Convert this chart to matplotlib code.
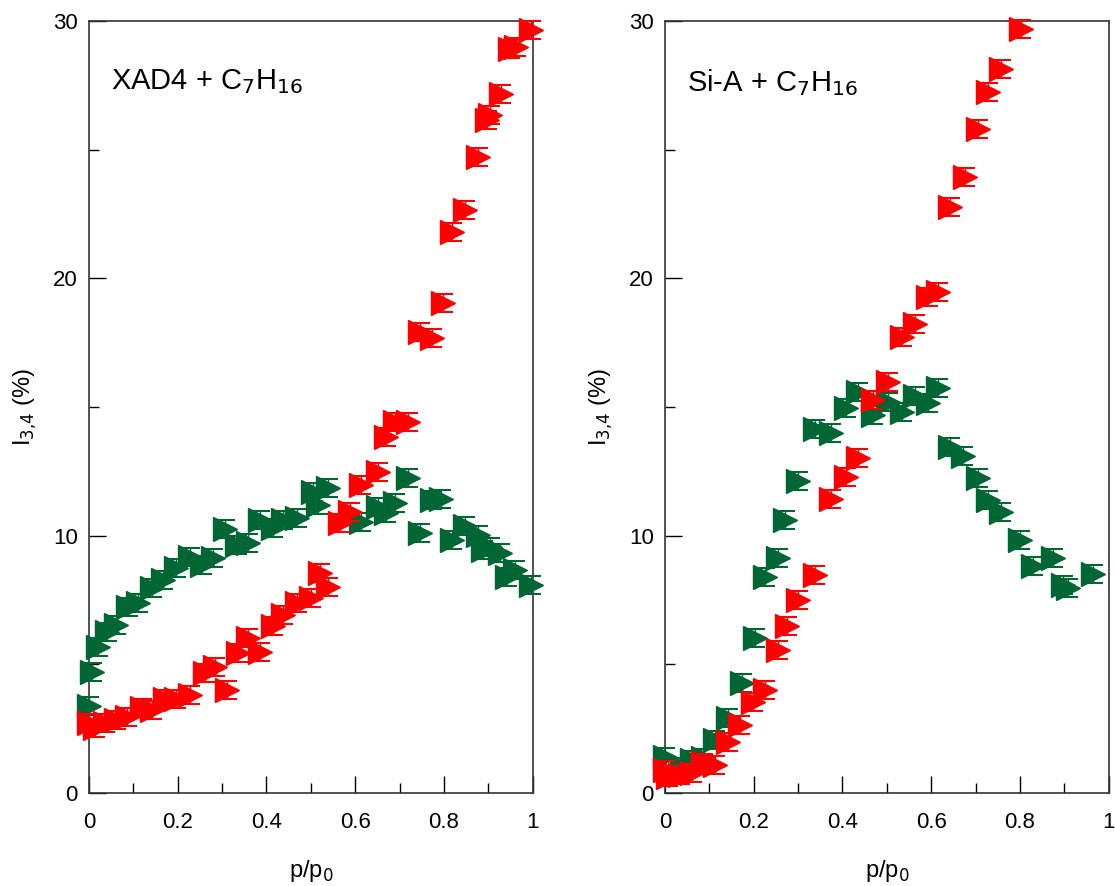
import numpy as np
import matplotlib
matplotlib.use("Agg")
import matplotlib.pyplot as plt
from matplotlib.ticker import MultipleLocator

plt.rcParams['font.family'] = ['Liberation Sans', 'DejaVu Sans']

# XAD4 + C7H16
xad_red_x = [0.0, 0.013, 0.036, 0.062, 0.085, 0.119, 0.141, 0.171, 0.197, 0.227, 0.261, 0.284, 0.31,
             0.336, 0.359, 0.385, 0.415, 0.438, 0.468, 0.50, 0.52, 0.539, 0.565, 0.588, 0.614, 0.652,
             0.67, 0.689, 0.719, 0.745, 0.772, 0.798, 0.817, 0.847, 0.877, 0.896, 0.903, 0.929, 0.948,
             0.963, 0.997]
xad_red_y = [2.73, 2.51, 2.73, 2.84, 2.97, 3.29, 3.23, 3.64, 3.64, 3.81, 4.68, 4.91, 4.0,
             5.45, 6.01, 5.49, 6.49, 6.92, 7.37, 7.57, 8.54, 8.02, 10.48, 10.93, 11.97, 12.49,
             13.85, 14.43, 14.43, 17.93, 17.67, 19.05, 21.82, 22.66, 24.73, 26.16, 26.35, 27.19, 28.94,
             29.0, 29.65]

xad_green_x = [0.0, 0.006, 0.021, 0.04, 0.062, 0.089, 0.111, 0.141, 0.167, 0.197, 0.227, 0.254, 0.28,
               0.306, 0.333, 0.359, 0.385, 0.415, 0.438, 0.468, 0.505, 0.516, 0.539, 0.614, 0.652,
               0.67, 0.689, 0.719, 0.745, 0.772, 0.794, 0.817, 0.847, 0.877, 0.888, 0.903, 0.926,
               0.943, 0.96, 0.997]
xad_green_y = [3.38, 4.71, 5.69, 6.27, 6.53, 7.24, 7.37, 7.96, 8.28, 8.73, 9.18, 8.86, 9.12,
               10.25, 9.64, 9.70, 10.61, 10.29, 10.61, 10.68, 11.71, 11.19, 11.84, 10.54, 11.13,
               10.87, 11.26, 12.23, 10.12, 11.39, 11.41, 9.83, 10.38, 10.03, 9.44, 9.57, 9.32,
               8.4, 8.65, 8.08]

# Si-A + C7H16
sia_red_x = [0.0, 0.007, 0.034, 0.06, 0.086, 0.113, 0.143, 0.169, 0.199, 0.225, 0.255, 0.274, 0.30,
             0.338, 0.375, 0.409, 0.435, 0.469, 0.503, 0.533, 0.563, 0.593, 0.616, 0.642, 0.676,
             0.706, 0.728, 0.758, 0.803]
sia_red_y = [0.9, 0.63, 0.70, 0.77, 1.15, 1.09, 1.99, 2.64, 3.55, 4.0, 5.56, 6.49, 7.50,
             8.47, 11.41, 12.29, 13.01, 15.27, 15.99, 17.74, 18.23, 19.29, 19.48, 22.79, 23.95,
             25.83, 27.26, 28.13, 29.68]

sia_green_x = [0.0, 0.038, 0.06, 0.086, 0.113, 0.143, 0.173, 0.203, 0.225, 0.255, 0.27, 0.30, 0.338,
               0.375, 0.409, 0.435, 0.469, 0.503, 0.533, 0.563, 0.593, 0.616, 0.642, 0.672, 0.706,
               0.728, 0.758, 0.80, 0.83, 0.875, 0.897, 0.908, 0.965]
sia_green_y = [1.41, 1.02, 1.28, 1.35, 2.06, 2.90, 4.29, 6.01, 8.38, 9.12, 10.61, 12.13, 14.14,
               14.0, 14.95, 15.6, 14.69, 15.21, 14.82, 15.43, 15.15, 15.73, 13.46, 13.10, 12.23,
               11.39, 10.93, 9.83, 8.82, 9.12, 8.08, 7.96, 8.51]

panels = [("XAD4 + C$_7$H$_{16}$", xad_red_x, xad_red_y, xad_green_x, xad_green_y),
          ("Si-A + C$_7$H$_{16}$", sia_red_x, sia_red_y, sia_green_x, sia_green_y)]

red = '#ff0000'
green = '#006633'

fig = plt.figure(figsize=(11.15, 8.86), dpi=100)
lefts = [0.0798, 0.5964]

for left, (title, rx, ry, gx, gy) in zip(lefts, panels):
    ax = fig.add_axes([left, 0.105, 0.398, 0.871])
    for xs, ys, c, z in [(gx, gy, green, 3), (rx, ry, red, 4)]:
        cont = ax.errorbar(xs, ys, yerr=0.35, fmt='>', color=c, ms=17, mec=c,
                           ecolor=c, elinewidth=1, capsize=7, capthick=1.5, zorder=z)
        parts = [cont.lines[0]] + list(cont.lines[1]) + list(cont.lines[2])
        for art in parts:
            art.set_clip_on(False)
    ax.set_xlim(0, 1)
    ax.set_ylim(0, 30)
    ax.xaxis.set_minor_locator(MultipleLocator(0.1))
    ax.yaxis.set_major_locator(MultipleLocator(10))
    ax.yaxis.set_minor_locator(MultipleLocator(5))
    ax.set_xticks([0, 0.2, 0.4, 0.6, 0.8, 1.0])
    ax.set_xticklabels(['0', '0.2', '0.4', '0.6', '0.8', '1'])
    ax.tick_params(which='both', direction='in', top=False, right=False, labelsize=16, width=1)
    ax.tick_params(which='major', length=12, pad=14)
    ax.tick_params(which='minor', length=7)
    ax.tick_params(axis='y', pad=8)
    for s in ax.spines.values():
        s.set_color('#333333')
        s.set_linewidth(1.2)
    ax.text(0.05, 0.94, title, transform=ax.transAxes, fontsize=21, va='top')
    ax.set_xlabel('p/p$_0$', fontsize=17, labelpad=18)
    ax.set_ylabel('I$_{3{,}4}$ (%)', fontsize=17, labelpad=10)

fig.savefig('out.png', dpi=100)
